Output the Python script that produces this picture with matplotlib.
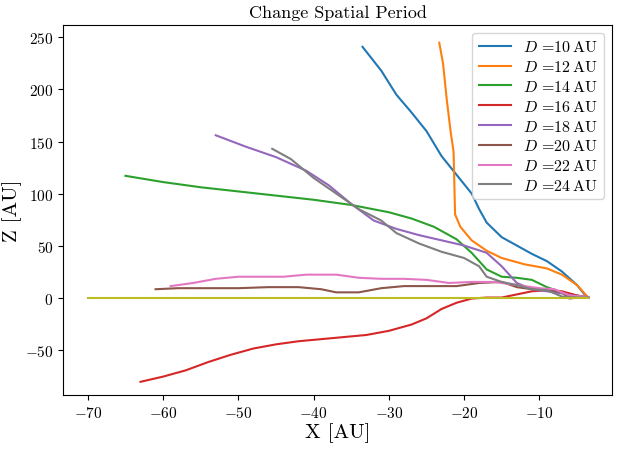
import matplotlib
matplotlib.use("Agg")
import matplotlib.pyplot as plt

plt.rcParams['font.family'] = 'serif'
plt.rcParams['font.serif'] = ['cmr10']
plt.rcParams['mathtext.fontset'] = 'cm'
plt.rcParams['axes.formatter.use_mathtext'] = True

spacings = [10, 12, 14, 16, 18, 20, 22, 24]

x10 = [-33.5, -31, -29, -27, -25, -23, -21, -19, -18, -17, -15, -13, -11, -9, -7, -5, -4, -3.5]
z10 = [241, 218, 195, 178, 160, 136, 118, 100, 85, 72, 58, 50, 42, 35, 25, 12, 3, 0]
x12 = [-23.3, -22.8, -22.3, -21.8, -21.4, -21.3, -21.2, -20.5, -19, -17, -15, -12, -9, -7, -5, -4, -3.5]
z12 = [245, 225, 190, 160, 140, 110, 80, 68, 55, 45, 38, 32, 28, 22, 12, 4, 0]
x14 = [-65, -60, -55, -50, -45, -40, -35, -30, -27, -24, -21, -19, -17, -15, -13, -11, -9, -7, -5, -3.5]
z14 = [117, 111, 106, 102, 98, 94, 89, 82, 76, 68, 56, 43, 27, 20, 19, 17, 10, 5, 2, 0]
x16 = [-63, -60, -57, -54, -51, -48, -45, -42, -39, -36, -33, -30, -27, -25, -23, -21, -19, -17, -15, -13, -11, -9, -7, -5, -3.5]
z16 = [-81, -76, -70, -62, -55, -49, -45, -42, -40, -38, -36, -32, -26, -20, -11, -5, -1, 0, 0, 3, 6, 7, 6, 2, 0]
x18 = [-53, -49, -45, -41, -38, -35, -32, -29, -26, -23, -20, -17, -15, -13, -11, -9, -7, -5, -3.5]
z18 = [156, 145, 135, 122, 108, 90, 74, 66, 60, 55, 50, 43, 30, 14, 8, 6, 4, 1, 0]
x20 = [-61, -58, -54, -50, -46, -42, -39, -37, -34, -31, -28, -24, -21, -18, -15, -13, -11, -9, -7, -6, -5, -3.5]
z20 = [8, 9, 9, 9, 10, 10, 8, 5, 5, 9, 11, 11, 11, 14, 15, 10, 8, 8, 5, -1, 0, 0]
x22 = [-59, -56, -53, -50, -47, -44, -41, -37, -34, -31, -28, -25, -22, -19, -16, -13, -10, -8, -6, -4, -3.5]
z22 = [11, 14, 18, 20, 20, 20, 22, 22, 19, 18, 18, 17, 14, 15, 15, 12, 9, 8, 2, 1, 0]
x24 = [-45.5, -43, -40, -37, -34, -31, -29, -26, -23, -20, -18, -17, -15, -13, -11, -9, -7, -5, -3.5]
z24 = [143, 133, 115, 100, 85, 74, 62, 52, 44, 38, 30, 20, 15, 12, 8, 7, 1, 0, 0]
plane_x = [-70, -3.5]
plane_z = [0, 0]

xs = [x10, x12, x14, x16, x18, x20, x22, x24]
zs = [z10, z12, z14, z16, z18, z20, z22, z24]

fig, ax = plt.subplots(figsize=(6.3, 4.56), dpi=100)
for d, x, z in zip(spacings, xs, zs):
    ax.plot(x, z, label=r'$D$ =%d$\,$AU' % d, lw=1.5)
ax.plot(plane_x, plane_z, color='tab:olive', lw=1.5)

ax.set_xlim(-73.3, -0.3)
ax.set_ylim(-93.5, 262)
ax.set_title('Change Spatial Period', fontsize=13)
ax.set_xlabel('X [AU]', fontsize=15, labelpad=2)
ax.set_ylabel('Z [AU]', fontsize=15, labelpad=2)
ax.tick_params(labelsize=11)
ax.legend(fontsize=11.5, loc='upper right', handlelength=2, labelspacing=0.3)
fig.subplots_adjust(left=0.1, right=0.972, top=0.943, bottom=0.132)
fig.savefig('out.png')
